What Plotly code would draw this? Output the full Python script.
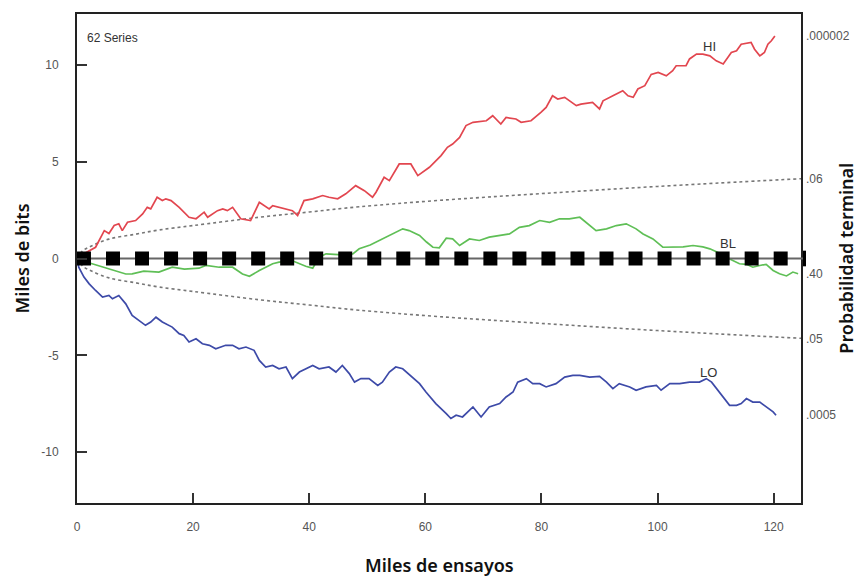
import plotly.graph_objects as go

# Cumulative deviations (thousands of bits) vs trials (thousands), 62 series
HI_X = [0, 1.5, 3.2, 4.7, 5.5, 6.4, 7.2, 7.8, 8.7, 10.1,
        11.3, 12.1, 12.7, 13.8, 14.7, 15.3, 16.2, 17.6, 19.3, 20.5,
        21.9, 22.5, 24.2, 25.1, 25.9, 26.8, 28.2, 29.9, 31.4, 33.1,
        33.7, 34.8, 37.1, 38.0, 39.1, 40.6, 42.3, 43.4, 44.9, 46.3,
        47.5, 48.0, 49.5, 50.9, 51.5, 52.9, 53.8, 55.5, 57.5, 58.7,
        60.7, 61.8, 62.7, 63.8, 64.7, 65.9, 67.0, 68.2, 70.5, 71.6,
        72.5, 73.0, 73.9, 75.6, 76.5, 78.2, 79.9, 80.8, 81.9, 82.8,
        84.0, 84.8, 86.0, 86.8, 88.8, 90.0, 90.6, 92.3, 94.0, 94.9,
        95.8, 96.6, 97.8, 98.9, 100.1, 101.5, 102.6, 103.2, 104.9, 105.5,
        106.7, 107.8, 109.0, 110.1, 111.3, 112.7, 113.6, 114.4, 116.1, 116.7,
        117.6, 118.4, 119.0, 119.6, 120.2]
HI_Y = [0, 0.3, 0.58, 1.44, 1.29, 1.7, 1.79, 1.44, 1.87, 1.96,
        2.3, 2.64, 2.56, 3.16, 2.99, 3.08, 2.99, 2.64, 2.13, 2.05,
        2.39, 2.13, 2.47, 2.56, 2.47, 2.64, 2.05, 1.96, 2.9, 2.56,
        2.73, 2.64, 2.47, 2.22, 2.99, 3.08, 3.25, 3.16, 3.08, 3.34,
        3.67, 3.76, 3.5, 3.16, 3.42, 4.19, 4.02, 4.88, 4.88, 4.28,
        4.71, 5.05, 5.31, 5.74, 5.91, 6.25, 6.86, 7.03, 7.11, 7.37,
        7.11, 6.94, 7.28, 7.2, 7.03, 7.11, 7.54, 7.8, 8.4, 8.23,
        8.32, 8.14, 7.89, 7.97, 8.06, 7.72, 8.14, 8.4, 8.66, 8.4,
        8.32, 8.75, 8.92, 9.5, 9.6, 9.43, 9.69, 9.95, 9.95, 10.3,
        10.55, 10.55, 10.46, 10.2, 10.04, 10.63, 10.72, 11.06, 11.15, 10.8,
        10.46, 10.63, 11.06, 11.24, 11.49]

BL_X = [0, 1.2, 2.6, 4.5, 6.5, 8.4, 9.5, 11.5, 14.1, 16.4,
        18.5, 21.0, 22.2, 24.5, 26.8, 28.5, 29.7, 31.4, 33.7, 34.8,
        37.1, 39.4, 40.6, 41.7, 42.9, 45.0, 47.5, 48.6, 50.5, 52.1,
        54.4, 56.1, 57.2, 59.0, 60.2, 61.3, 62.4, 63.6, 64.7, 65.9,
        67.6, 69.3, 71.0, 72.8, 74.5, 76.2, 77.9, 79.7, 81.4, 83.1,
        84.8, 86.6, 87.7, 89.4, 91.2, 92.9, 94.6, 96.3, 97.5, 99.2,
        100.9, 102.6, 104.4, 106.1, 107.8, 109.0, 110.5, 111.8, 113.0, 114.1,
        115.3, 116.4, 117.6, 118.7, 119.9, 121.0, 122.2, 123.3, 124.2]
BL_Y = [0, -0.15, -0.27, -0.45, -0.6, -0.8, -0.79, -0.65, -0.7, -0.45,
        -0.55, -0.5, -0.36, -0.45, -0.45, -0.8, -0.92, -0.62, -0.27, -0.19,
        -0.12, -0.4, -0.5, 0.07, 0.24, 0.2, 0.24, 0.5, 0.7, 0.93,
        1.27, 1.53, 1.44, 1.19, 0.85, 0.58, 0.55, 1.05, 1.01, 0.67,
        1.01, 0.93, 1.1, 1.19, 1.27, 1.61, 1.7, 1.96, 1.87, 2.05,
        2.05, 2.13, 1.87, 1.44, 1.53, 1.7, 1.79, 1.53, 1.27, 1.01,
        0.58, 0.58, 0.6, 0.67, 0.6, 0.5, 0.3, 0.07, -0.1, -0.27,
        -0.3, -0.45, -0.36, -0.3, -0.62, -0.79, -0.9, -0.7, -0.79]

LO_X = [0, 0.3, 1.2, 2.1, 3.2, 4.4, 5.5, 6.1, 7.2, 8.4,
        9.5, 10.7, 11.8, 12.7, 13.6, 14.7, 16.4, 17.6, 18.4, 19.3,
        20.5, 21.6, 22.8, 23.9, 25.6, 26.8, 27.9, 29.1, 30.5, 31.4,
        32.5, 33.7, 34.8, 36.0, 37.1, 38.3, 39.4, 40.6, 41.7, 43.4,
        44.6, 45.7, 46.9, 47.8, 48.9, 50.3, 51.8, 52.6, 53.8, 54.9,
        56.1, 57.8, 59.0, 60.1, 61.8, 63.6, 64.4, 65.3, 66.4, 68.2,
        69.6, 71.0, 72.8, 73.9, 75.1, 75.9, 77.4, 78.5, 79.7, 80.8,
        82.5, 84.0, 85.4, 86.6, 88.3, 90.0, 91.2, 92.3, 93.4, 95.2,
        96.3, 98.0, 99.8, 100.6, 102.1, 103.8, 105.5, 107.2, 108.4, 109.3,
        110.4, 111.3, 112.4, 113.6, 114.4, 115.3, 116.4, 117.6, 118.7, 119.9,
        120.4]
LO_Y = [0, -0.45, -0.96, -1.31, -1.65, -1.99, -1.91, -2.08, -1.91, -2.34,
        -2.94, -3.2, -3.45, -3.28, -3.03, -3.28, -3.54, -3.88, -3.97, -4.31,
        -4.14, -4.4, -4.48, -4.66, -4.48, -4.48, -4.66, -4.57, -4.74, -5.26,
        -5.6, -5.52, -5.69, -5.6, -6.2, -5.86, -5.69, -5.52, -5.69, -5.6,
        -5.86, -5.52, -5.94, -6.38, -6.2, -6.2, -6.55, -6.38, -5.86, -5.6,
        -5.69, -6.12, -6.46, -6.89, -7.49, -8.01, -8.26, -8.09, -8.18, -7.66,
        -8.18, -7.66, -7.49, -7.15, -6.89, -6.38, -6.2, -6.46, -6.46, -6.63,
        -6.46, -6.12, -6.03, -6.03, -6.12, -6.08, -6.38, -6.72, -6.46, -6.63,
        -6.8, -6.63, -6.55, -6.8, -6.46, -6.46, -6.38, -6.38, -6.2, -6.38,
        -6.8, -7.15, -7.58, -7.58, -7.49, -7.23, -7.41, -7.41, -7.66, -7.92,
        -8.09]

# 0.05 probability envelope
ENV_X = [0, 1, 2.5, 5.5, 10, 14.1, 20, 31.4, 40, 48.6, 62.4, 80, 100, 124.7]
ENV_UP = [0, 0.4, 0.65, 1.0, 1.25, 1.47, 1.7, 2.13, 2.4, 2.67, 3.0, 3.35, 3.72, 4.12]
ENV_DN = [0, -0.4, -0.65, -1.0, -1.25, -1.47, -1.7, -2.13, -2.4, -2.67, -3.0, -3.35, -3.72, -4.12]

# Baseline marks and terminal probabilities
BASE_X = [1.2, 6.2, 11.2, 16.2, 21.2, 26.2, 31.2, 36.2, 41.2, 46.2, 51.2, 56.2, 61.2,
          66.2, 71.2, 76.2, 81.2, 86.2, 91.2, 96.2, 101.2, 106.2, 111.2, 116.2, 121.2]
BASE_END = 125.3
TERMINAL_P = [".000002", ".06", ".40", ".05", ".0005"]
X_TICKS = [0, 20, 40, 60, 80, 100, 120]
Y_TICKS = [-10, -5, 0, 5, 10]
Y_TICK_TEXT = ["-10", "-5", "0", "5", "10"]

X_RANGE = [0, 124.7]
Y_RANGE = [-12.62, 12.62]

TICK_FONT = dict(family="Liberation Sans, Arial, sans-serif", size=12, color="#555555")
TITLE_FONT = dict(family="Noto Sans, Open Sans, sans-serif", size=18, color="#111111", weight=600)
LABEL_FONT = dict(family="Liberation Sans, Arial, sans-serif", size=13, color="#333333")

fig = go.Figure()

for ys in (ENV_UP, ENV_DN):
    fig.add_trace(go.Scatter(x=ENV_X, y=ys, mode="lines", line_shape="spline",
                             line=dict(color="#777777", width=1.6, dash="dot"),
                             hoverinfo="skip"))

fig.add_trace(go.Scatter(x=HI_X, y=HI_Y, mode="lines", name="HI",
                         line=dict(color="#e2464f", width=1.7)))
fig.add_trace(go.Scatter(x=BL_X, y=BL_Y, mode="lines", name="BL",
                         line=dict(color="#5fbf56", width=1.7)))
fig.add_trace(go.Scatter(x=LO_X, y=LO_Y, mode="lines", name="LO",
                         line=dict(color="#3d4aa8", width=1.7)))

# Baseline drawn on the overlay axis so it sits above the series
fig.add_trace(go.Scatter(x=[X_RANGE[0], X_RANGE[1]], y=[0, 0], mode="lines", yaxis="y2",
                         line=dict(color="#666666", width=2), hoverinfo="skip"))
fig.add_trace(go.Scatter(x=BASE_X, y=[0] * len(BASE_X), mode="markers", yaxis="y2",
                         marker=dict(symbol="square", size=14, color="black"),
                         hoverinfo="skip"))

# Baseline end cap, just past the right frame (domain units are not clipped)
end_fx = (BASE_END - X_RANGE[0]) / (X_RANGE[1] - X_RANGE[0])
zero_fy = (0 - Y_RANGE[0]) / (Y_RANGE[1] - Y_RANGE[0])
fig.add_shape(type="line", xref="x domain", yref="y domain", x0=1.0, x1=end_fx,
              y0=zero_fy, y1=zero_fy, line=dict(color="#666666", width=2))
fig.add_shape(type="line", xref="x domain", yref="y domain", x0=end_fx, x1=end_fx,
              y0=zero_fy - 0.016, y1=zero_fy + 0.016, line=dict(color="black", width=3))

for txt, xv, yv in (("HI", 109.0, 10.95), ("BL", 112.1, 0.75), ("LO", 108.7, -5.9)):
    fig.add_annotation(x=xv, y=yv, text=txt, showarrow=False, font=LABEL_FONT)

fig.add_annotation(xref="paper", yref="paper", x=0.011, y=0.951, xanchor="left",
                   yanchor="middle", text="62 Series", showarrow=False,
                   font=dict(family="Liberation Sans, Arial, sans-serif", size=12, color="#333333"))

# Axis titles
fig.add_annotation(xref="paper", yref="paper", x=0.5, y=-0.127, xanchor="center",
                   yanchor="middle", text="Miles de ensayos", showarrow=False, font=TITLE_FONT)
fig.add_annotation(xref="paper", yref="paper", x=-0.076, y=0.5, xanchor="center",
                   yanchor="middle", text="Miles de bits", textangle=-90,
                   showarrow=False, font=TITLE_FONT)
fig.add_annotation(xref="paper", yref="paper", x=1.061, y=0.5, xanchor="center",
                   yanchor="middle", text="Probabilidad terminal", textangle=-90,
                   showarrow=False, font=TITLE_FONT)

axis_common = dict(showgrid=False, zeroline=False, ticks="inside", ticklen=10,
                   tickwidth=1.5, tickcolor="#333333", showline=True,
                   linecolor="#222222", linewidth=2, mirror=True, tickfont=TICK_FONT,
                   automargin=False)

end_vals = [HI_Y[-1], ENV_UP[-1], BL_Y[-1], ENV_DN[-1], LO_Y[-1]]

fig.update_layout(
    width=864, height=578,
    margin=dict(l=77, r=63, t=14, b=75),
    plot_bgcolor="white", paper_bgcolor="white",
    showlegend=False,
    xaxis=dict(range=X_RANGE, tickvals=X_TICKS, ticklabelstandoff=12, **axis_common),
    yaxis=dict(range=Y_RANGE, tickvals=Y_TICKS, ticktext=Y_TICK_TEXT,
               ticklabelstandoff=14, **axis_common),
    yaxis2=dict(range=Y_RANGE, overlaying="y", side="right", showgrid=False,
                zeroline=False, showline=False, ticks="", automargin=False,
                tickvals=end_vals, ticktext=TERMINAL_P, tickfont=TICK_FONT,
                ticklabelstandoff=4),
)

fig.write_html("out.html")
